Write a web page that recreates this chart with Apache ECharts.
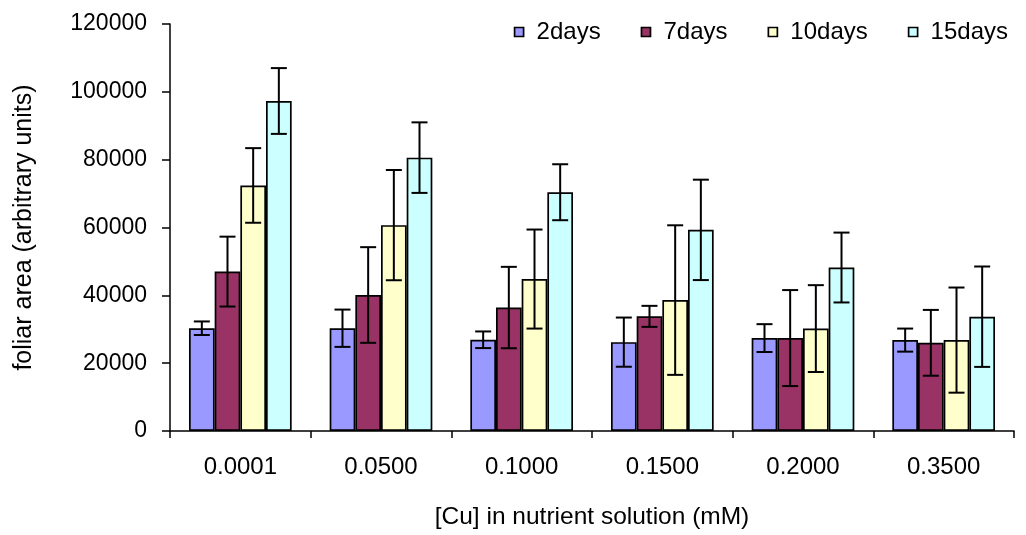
<!DOCTYPE html>
<html>
<head>
<meta charset="utf-8">
<script src="https://cdn.jsdelivr.net/npm/echarts@6/dist/echarts.min.js"></script>
<style>
  html, body { margin: 0; padding: 0; background: #fff; }
  #chart { width: 1026px; height: 535px; }
</style>
</head>
<body>
<div id="chart"></div>
<script>
// Copper concentration groups on the x axis
const categories = ['0.0001', '0.0500', '0.1000', '0.1500', '0.2000', '0.3500'];
const seriesNames = ['2days', '7days', '10days', '15days'];

// Mean foliar area per exposure time
const days2 = [30300, 30300, 26900, 26200, 27400, 26800];
const days7 = [47000, 40100, 36400, 33800, 27400, 26000];
const days10 = [72400, 60700, 44800, 38600, 30200, 26800];
const days15 = [97300, 80600, 70400, 59300, 48200, 33700];

// Error bar half-lengths (same order as the means)
const err2 = [2000, 5500, 2450, 7250, 4100, 3400];
const err7 = [10300, 14100, 12000, 3100, 14150, 9700];
const err10 = [11000, 16250, 14600, 22050, 12800, 15500];
const err15 = [9700, 10400, 8250, 14800, 10300, 14800];

const yTicks = { min: 0, max: 120000, interval: 20000 };

const means = [days2, days7, days10, days15];
const errors = [err2, err7, err10, err15];
const colors = ['#9999FF', '#993366', '#FFFFCC', '#CCFFFF'];

const FONT = '"Liberation Sans", Arial, sans-serif';
const CAT_GAP = 0.27;

const barSeries = seriesNames.map((name, i) => ({
  name: name,
  type: 'bar',
  data: means[i],
  barGap: '0%',
  barCategoryGap: (CAT_GAP * 100) + '%',
  itemStyle: { color: colors[i], borderColor: '#000', borderWidth: 1.7 },
  z: 2
}));

function makeErrorRenderer(idx) {
  return function (params, api) {
    const x = api.value(0);
    const v = api.value(1);
    const e = api.value(2);
    const band = api.size([1, 0])[0];
    const w = band * (1 - CAT_GAP) / seriesNames.length;
    const cx = api.coord([x, v])[0] + (idx - (seriesNames.length - 1) / 2) * w;
    const yTop = api.coord([x, v + e])[1];
    const yBot = api.coord([x, v - e])[1];
    const half = 8;
    const style = { stroke: '#000', lineWidth: 2 };
    return {
      type: 'group',
      children: [
        { type: 'line', shape: { x1: cx, y1: yTop, x2: cx, y2: yBot }, style: style },
        { type: 'line', shape: { x1: cx - half, y1: yTop, x2: cx + half, y2: yTop }, style: style },
        { type: 'line', shape: { x1: cx - half, y1: yBot, x2: cx + half, y2: yBot }, style: style }
      ]
    };
  };
}

const errorSeries = seriesNames.map((name, i) => ({
  name: name + ' error',
  type: 'custom',
  renderItem: makeErrorRenderer(i),
  data: means[i].map((m, k) => [k, m, errors[i][k]]),
  encode: { x: 0, y: 1 },
  z: 10,
  silent: true
}));

const chart = echarts.init(document.getElementById('chart'), null, { renderer: 'canvas' });
chart.setOption({
  animation: false,
  backgroundColor: '#fff',
  textStyle: { fontFamily: FONT, color: '#000' },
  grid: { left: 170, right: 12, top: 24, bottom: 102.3 },
  legend: {
    data: seriesNames,
    right: 18,
    top: 20,
    padding: 0,
    itemWidth: 9,
    itemHeight: 9,
    itemGap: 40,
    icon: 'rect',
    itemStyle: { borderColor: '#000', borderWidth: 1.7 },
    textStyle: { fontFamily: FONT, fontSize: 24, color: '#000', padding: [0, 0, 0, 8] }
  },
  xAxis: {
    type: 'category',
    data: categories,
    name: '[Cu] in nutrient solution (mM)',
    nameLocation: 'middle',
    nameGap: 74,
    nameTextStyle: { fontFamily: FONT, fontSize: 24.5, color: '#000' },
    axisLine: { lineStyle: { color: '#000', width: 1.5 } },
    axisTick: { show: true, length: 7, lineStyle: { color: '#000', width: 1.5 } },
    axisLabel: { fontFamily: FONT, fontSize: 24, color: '#000', margin: 24 },
    splitLine: { show: false }
  },
  yAxis: {
    type: 'value',
    min: yTicks.min,
    max: yTicks.max,
    interval: yTicks.interval,
    name: 'foliar area (arbitrary units)',
    nameLocation: 'middle',
    nameGap: 133,
    nameTextStyle: { fontFamily: FONT, fontSize: 25, color: '#000' },
    axisLine: { show: true, lineStyle: { color: '#000', width: 1.5 } },
    axisTick: { show: true, length: 8, lineStyle: { color: '#000', width: 1.5 } },
    axisLabel: { fontFamily: FONT, fontSize: 23, color: '#000', margin: 23, formatter: v => String(v) },
    splitLine: { show: false }
  },
  series: barSeries.concat(errorSeries)
});
</script>
</body>
</html>
